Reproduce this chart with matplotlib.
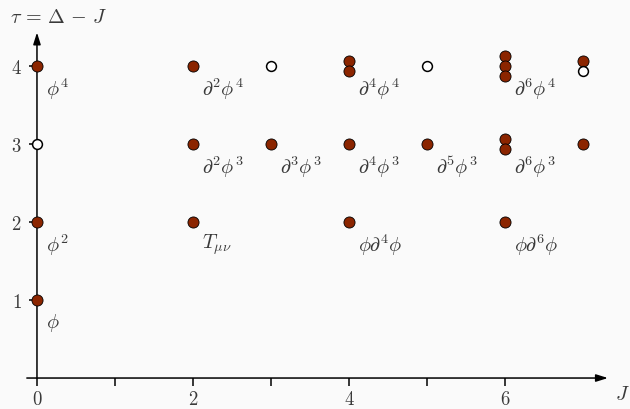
import numpy as np
import matplotlib.pyplot as plt

# ----------------------------------
# Operator spectrum: spin J vs twist tau
# ----------------------------------
# one entry per operator; degenerate ones share (J, tau)
op_J = [0, 0, 0, 0, 2, 2, 2, 3, 3, 4, 4, 4, 4, 5, 5, 6, 6, 6, 6, 6, 6, 7, 7, 7]
op_tau = [1, 2, 3, 4, 2, 3, 4, 3, 4, 2, 3, 4, 4, 3, 4, 2, 3, 3, 4, 4, 4, 3, 4, 4]
op_filled = [True, True, False, True, True, True, True, True, False,
             True, True, True, True, True, False,
             True, True, True, True, True, True, True, True, False]

label_J = [0, 0, 0, 2, 2, 2, 3, 4, 4, 4, 5, 6, 6, 6]
label_tau = [1, 2, 4, 2, 3, 4, 3, 2, 3, 4, 3, 2, 3, 4]
label_text = [r"$\phi$", r"$\phi^2$", r"$\phi^4$", r"$T_{\mu\nu}$",
              r"$\partial^2\phi^3$", r"$\partial^2\phi^4$", r"$\partial^3\phi^3$",
              r"$\phi\partial^4\phi$", r"$\partial^4\phi^3$", r"$\partial^4\phi^4$",
              r"$\partial^5\phi^3$", r"$\phi\partial^6\phi$", r"$\partial^6\phi^3$",
              r"$\partial^6\phi^4$"]

x_ticks = [0, 1, 2, 3, 4, 5, 6]
y_ticks = [1, 2, 3, 4]

fill_color = "#8b2500"
text_color = "#3a3a3a"
bg = "#fafafa"

plt.rcParams["mathtext.fontset"] = "cm"
plt.rcParams["font.family"] = "DejaVu Serif"

fig = plt.figure(figsize=(6.3, 4.1), dpi=100, facecolor=bg)
ax = fig.add_axes([0, 0, 1, 1], facecolor=bg)
ax.set_xlim(-0.474, 7.603)
ax.set_ylim(-0.397, 4.859)

# spread degenerate operators vertically around their tau value
step = 0.128
plot_y = np.array(op_tau, dtype=float)
pairs = list(zip(op_J, op_tau))
for key in set(pairs):
    idx = [i for i, p in enumerate(pairs) if p == key]
    n = len(idx)
    for k, i in enumerate(idx):
        plot_y[i] = op_tau[i] + step * ((n - 1) / 2 - k)

op_J = np.array(op_J)
op_filled = np.array(op_filled)

# axes with arrowheads
for s in ax.spines.values():
    s.set_visible(False)
ax.spines["left"].set_position(("data", 0))
ax.spines["bottom"].set_position(("data", 0))
ax.annotate("", xy=(7.32, 0), xytext=(-0.13, 0),
            arrowprops=dict(arrowstyle="-|>,head_length=0.7,head_width=0.22",
                            color="black", lw=1.1, shrinkA=0, shrinkB=0),
            zorder=1)
ax.annotate("", xy=(0, 4.43), xytext=(0, 0),
            arrowprops=dict(arrowstyle="-|>,head_length=0.7,head_width=0.22",
                            color="black", lw=1.1, shrinkA=0, shrinkB=0),
            zorder=1)

ax.set_xticks(x_ticks)
ax.set_yticks(y_ticks)
ax.tick_params(axis="both", direction="out", length=6, width=1.1, color="black",
               labelsize=13.5, labelcolor=text_color, pad=5)
ax.tick_params(axis="x", pad=2.5)
ax.xaxis.set_major_formatter(plt.FuncFormatter(
    lambda v, p: "" if int(round(v)) % 2 else r"$%d$" % int(round(v))))
ax.yaxis.set_major_formatter(plt.FuncFormatter(lambda v, p: r"$%d$" % int(round(v))))

# operators
ax.scatter(op_J[op_filled], plot_y[op_filled], s=64, c=fill_color,
           edgecolors="black", linewidths=0.6, zorder=3)
ax.scatter(op_J[~op_filled], plot_y[~op_filled], s=50, c="white",
           edgecolors="black", linewidths=1.1, zorder=3)

for j, t, txt in zip(label_J, label_tau, label_text):
    ax.text(j + 0.12, t - 0.28, txt, fontsize=14.5, color=text_color,
            ha="left", va="center")

ax.text(-0.35, 4.64, r"$\tau\,=\,\Delta\,-\,J$", fontsize=14.5, color=text_color,
        ha="left", va="center")
ax.text(7.41, -0.2, r"$J$", fontsize=14.5, color=text_color, ha="left", va="center")

fig.savefig("out.png", dpi=100, facecolor=bg)
